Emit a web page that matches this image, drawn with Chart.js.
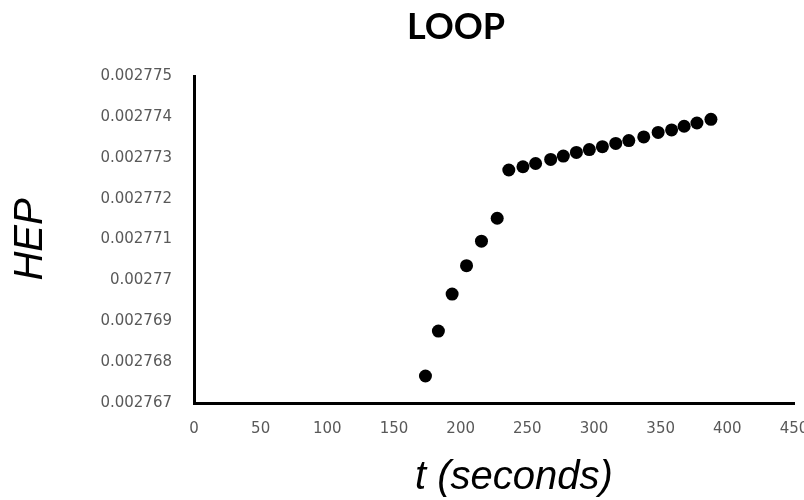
<!DOCTYPE html>
<html>
<head>
<meta charset="utf-8">
<script src="https://cdn.jsdelivr.net/npm/chart.js@4"></script>
<style>
  html, body { margin: 0; padding: 0; background: #fff; }
  #wrap { width: 804px; height: 500px; position: relative; }
</style>
</head>
<body>
<div id="wrap"><canvas id="c"></canvas></div>
<script>
// ---- data ----
const chartTitle = 'LOOP';
const xAxisTitle = 't (seconds)';
const yAxisTitle = 'HEP';
const tSeconds = [173.6, 183.3, 193.6, 204.4, 215.6, 227.4, 236.1, 246.7, 256.2, 267.5, 277.0,
                  286.8, 296.5, 306.3, 316.3, 326.1, 337.3, 348.1, 358.2, 367.6, 377.2, 387.7];
const hepValues = [0.00276766, 0.00276876, 0.002769665, 0.00277036, 0.00277096, 0.00277152,
                   0.0027727, 0.00277278, 0.00277286, 0.00277296, 0.00277304, 0.00277313,
                   0.0027732, 0.00277327, 0.00277335, 0.00277342, 0.00277351, 0.00277362,
                   0.00277368, 0.00277377, 0.00277385, 0.00277394];
const yTickValues = [0.002767, 0.002768, 0.002769, 0.00277, 0.002771, 0.002772, 0.002773, 0.002774, 0.002775];
const yTickLabels = ['0.002767', '0.002768', '0.002769', '0.00277', '0.002771', '0.002772', '0.002773', '0.002774', '0.002775'];
const xTickValues = [0, 50, 100, 150, 200, 250, 300, 350, 400, 450];
const xTickLabels = ['0', '50', '100', '150', '200', '250', '300', '350', '400', '450'];

const points = tSeconds.map((t, i) => ({ x: t, y: hepValues[i] }));

const textPlugin = {
  id: 'texts',
  afterDraw(chart) {
    const ctx = chart.ctx;
    ctx.save();
    ctx.fillStyle = '#000';
    ctx.textAlign = 'center';
    ctx.textBaseline = 'middle';
    ctx.font = 'bold 36px Lato';
    ctx.fillText(chartTitle, 456, 27);
    ctx.font = 'italic 40px "Liberation Sans"';
    ctx.fillText(xAxisTitle, 514, 478);
    ctx.restore();
  }
};

new Chart(document.getElementById('c'), {
  type: 'scatter',
  data: {
    datasets: [{
      data: points,
      backgroundColor: '#000',
      borderColor: '#000',
      pointRadius: 6.5,
      pointHoverRadius: 6.5,
      borderWidth: 0
    }]
  },
  options: {
    responsive: true,
    maintainAspectRatio: false,
    animation: false,
    layout: { padding: { top: 76, left: 0, right: 10, bottom: 0 } },
    plugins: { legend: { display: false }, tooltip: { enabled: false }, title: { display: false } },
    scales: {
      x: {
        type: 'linear',
        min: 0, max: 450,
        afterBuildTicks: s => { s.ticks = xTickValues.map(v => ({ value: v })); },
        afterFit: s => { s.height = 97; s.paddingRight = 0; },
        grid: { display: false, drawTicks: false },
        border: { display: true, color: '#000', width: 3 },
        ticks: {
          padding: 17,
          color: '#595959',
          font: { family: 'DejaVu Sans', size: 15 },
          callback: (v) => { const i = xTickValues.indexOf(v); return i >= 0 ? xTickLabels[i] : ''; }
        },
        title: { display: false, text: xAxisTitle }
      },
      y: {
        type: 'linear',
        min: 0.002767, max: 0.002775,
        afterBuildTicks: s => { s.ticks = yTickValues.map(v => ({ value: v })); },
        afterFit: s => { s.width = 194; },
        grid: { display: false, drawTicks: false },
        border: { display: true, color: '#000', width: 3 },
        ticks: {
          padding: 22,
          color: '#595959',
          font: { family: 'DejaVu Sans', size: 15 },
          callback: (v, i) => yTickLabels[i]
        },
        title: {
          display: true,
          text: yAxisTitle,
          color: '#000',
          font: { family: 'Liberation Sans', size: 40, style: 'italic', lineHeight: 1 },
          padding: { top: 11, bottom: 0 }
        }
      }
    }
  },
  plugins: [textPlugin]
});
</script>
</body>
</html>
